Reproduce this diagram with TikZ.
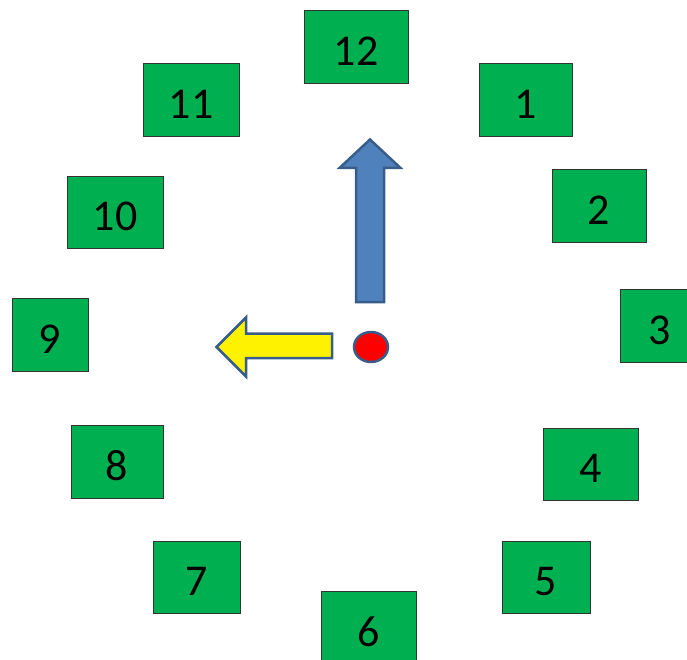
\documentclass[tikz,border=0pt]{standalone}
\usepackage{fontspec}
\setmainfont{Carlito}
\usetikzlibrary{shapes.geometric}
\definecolor{boxgreen}{HTML}{00B050}
\definecolor{arrowblue}{HTML}{4F81BD}
\definecolor{edgeblue}{HTML}{385D8A}
\begin{document}
\begin{tikzpicture}[x=1pt,y=-1pt,
  hourbox/.style={draw=black!80,line width=0.8pt,fill=boxgreen,inner sep=0pt},
  num/.style={inner sep=0pt,font=\fontsize{44}{44}\selectfont,text=black}]
\useasboundingbox (0,0) rectangle (687,660);
\clip (0,0) rectangle (687,660);
\foreach \n/\x/\y/\w/\h in {12/356/46.5/104/73, 11/191/99.5/96/73, 1/525.5/99.5/93/73,
  10/115/212/96/72, 2/599/205.5/94/73, 9/50/334.5/76/73, 3/660/325.5/80/73,
  8/117/461.5/92/73, 4/590.5/464/95/72, 7/196.5/577/87/72, 5/546/577/88/72,
  6/368.5/627/95/72}{
  \node[hourbox,minimum width=\w pt,minimum height=\h pt] (b\n) at (\x,\y) {};
  \node[num] (t\n) at ([yshift=-4.5pt]b\n.center) {\n};
}
% minute hand (blue, up)
\draw[fill=arrowblue,draw=edgeblue,line width=2.5pt,line join=miter]
  (370,139.5) -- (400.5,168) -- (384,168) -- (384,302) -- (356,302) -- (356,168) -- (339.5,168) -- cycle;
% hour hand (yellow, left)
\draw[fill=yellow,draw=edgeblue,line width=2.5pt,line join=miter]
  (216.5,347) -- (246,317.5) -- (246,333.5) -- (332,333.5) -- (332,358) -- (246,358) -- (246,376.5) -- cycle;
% centre
\node[ellipse,draw=edgeblue,fill=red,line width=2.5pt,minimum width=34pt,minimum height=30pt,inner sep=0pt] (c) at (371,347) {};
\end{tikzpicture}
\end{document}
